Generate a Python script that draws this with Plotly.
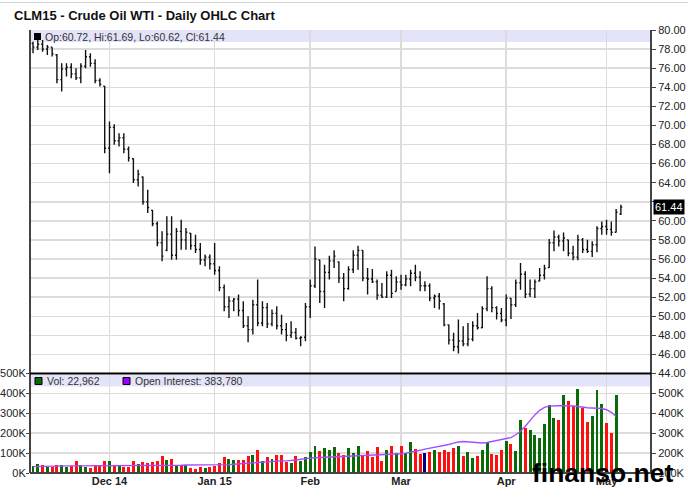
import plotly.graph_objects as go
import pandas as pd

# ---------------- data ----------------
holidays = ["2014-11-27", "2014-12-25", "2015-01-01", "2015-01-19", "2015-02-16", "2015-04-03"]
dates = [d.strftime("%Y-%m-%d") for d in pd.bdate_range("2014-11-06", "2015-05-06")
         if d.strftime("%Y-%m-%d") not in holidays]

opens = [78.6, 78.2, 78.5, 78.0, 78.2, 77.4, 74.8, 75.9, 76.1, 75.4,
         75.0, 76.2, 77.2, 76.5, 74.7, 74.1, 67.6, 69.8, 68.4, 68.7,
         67.5, 66.5, 64.3, 64.6, 62.0, 61.1, 59.7, 57.7, 56.9, 58.6,
         56.4, 58.9, 58.0, 58.7, 57.4, 57.0, 55.9, 56.2, 55.5, 54.8,
         53.0, 51.0, 51.6, 51.8, 50.6, 49.0, 48.6, 51.2, 49.3, 50.9,
         49.2, 50.3, 49.0, 48.6, 48.0, 48.3, 47.7, 47.8, 51.0, 53.2,
         55.9, 52.6, 54.6, 55.8, 55.7, 54.0, 52.9, 54.9, 56.4, 56.9,
         54.0, 53.9, 53.6, 52.2, 52.0, 54.3, 52.6, 53.6, 53.3, 53.9,
         54.5, 54.1, 53.2, 53.2, 51.9, 52.1, 51.3, 49.1, 47.5, 46.8,
         47.4, 47.1, 47.6, 49.0, 48.8, 50.8, 52.9, 50.9, 50.3, 49.6,
         51.9, 51.2, 53.5, 54.4, 52.3, 52.9, 53.7, 54.3, 55.1, 57.7,
         58.3, 57.9, 58.0, 56.6, 56.2, 58.0, 57.0, 56.8, 57.5, 59.2,
         59.4, 59.1, 58.8, 60.72]
highs = [78.78, 78.95, 78.95, 78.43, 78.2, 77.49, 76.51, 76.51, 76.51, 75.99,
         76.51, 77.91, 77.56, 76.93, 74.94, 74.14, 70.41, 70.13, 69.19, 69.19,
         67.79, 66.57, 65.35, 64.65, 63.26, 61.16, 59.94, 58.90, 60.47, 60.47,
         59.25, 60.12, 59.25, 58.72, 58.55, 57.68, 56.46, 56.46, 57.68, 55.24,
         53.32, 52.09, 51.92, 52.27, 51.57, 50.0, 51.74, 53.84, 51.57, 51.39,
         50.70, 51.05, 50.17, 49.30, 49.48, 48.78, 47.91, 51.39, 53.84, 57.32,
         55.93, 55.41, 56.35, 56.91, 55.75, 54.53, 55.23, 56.91, 57.39, 56.91,
         55.06, 54.95, 53.84, 53.49, 54.71, 54.88, 54.18, 54.36, 54.36, 54.88,
         55.41, 54.71, 53.66, 53.42, 52.27, 52.44, 51.39, 49.13, 48.26, 49.65,
         48.95, 49.30, 49.48, 50.35, 51.05, 54.18, 53.14, 51.05, 50.87, 52.27,
         51.92, 53.84, 55.58, 54.71, 53.84, 53.84, 55.06, 55.41, 58.09, 59.0,
         58.54, 58.79, 58.02, 57.39, 58.54, 58.20, 58.02, 57.85, 59.42, 59.94,
         60.11, 59.94, 61.23, 61.69]
lows = [77.56, 77.91, 77.73, 77.38, 77.21, 74.42, 73.55, 75.12, 74.94, 74.77,
        74.42, 75.99, 76.16, 74.42, 74.07, 67.09, 65.0, 67.97, 67.79, 67.09,
        66.22, 63.96, 63.61, 61.69, 60.82, 59.42, 57.33, 55.76, 56.80, 55.93,
        55.93, 56.98, 56.98, 56.98, 56.63, 55.41, 55.24, 54.89, 54.36, 52.62,
        50.52, 49.82, 50.52, 50.0, 48.78, 47.28, 48.08, 48.95, 48.95, 48.78,
        48.95, 48.60, 48.08, 47.38, 47.73, 47.56, 46.86, 47.38, 49.82, 52.96,
        51.39, 50.87, 53.84, 55.06, 53.49, 51.57, 52.79, 54.53, 54.88, 53.66,
        52.27, 53.49, 51.74, 51.92, 51.92, 51.92, 52.62, 52.79, 53.14, 53.14,
        53.66, 52.62, 52.62, 51.57, 50.87, 50.70, 48.95, 47.03, 46.34, 46.09,
        46.86, 46.86, 47.38, 48.60, 48.78, 50.52, 50.42, 49.65, 49.37, 48.95,
        49.72, 50.98, 52.79, 51.92, 52.02, 51.92, 53.66, 53.84, 55.06, 56.80,
        57.32, 56.80, 56.28, 55.86, 55.86, 56.63, 56.63, 56.21, 56.70, 58.54,
        58.54, 58.44, 58.79, 60.62]
closes = [78.2, 78.5, 78.0, 78.2, 77.5, 74.8, 75.9, 76.1, 75.4, 75.0,
          76.2, 77.2, 76.5, 74.7, 74.3, 67.6, 69.8, 68.4, 68.7, 67.5,
          66.6, 64.3, 64.9, 62.0, 61.4, 59.7, 57.7, 56.3, 58.6, 56.4,
          58.9, 58.0, 58.8, 57.4, 57.0, 55.9, 56.2, 55.5, 54.8, 53.0,
          51.0, 51.6, 51.8, 50.6, 49.0, 48.6, 51.2, 49.3, 50.9, 49.2,
          50.3, 49.0, 48.6, 48.0, 48.3, 47.7, 47.8, 51.0, 53.2, 56.0,
          52.6, 54.6, 55.8, 56.3, 54.0, 52.9, 54.9, 56.4, 56.9, 54.0,
          53.9, 53.6, 52.2, 52.0, 54.3, 52.4, 53.6, 53.3, 53.9, 54.5,
          54.1, 53.2, 53.2, 51.9, 52.1, 51.6, 49.1, 47.5, 46.8, 47.4,
          47.1, 47.6, 49.0, 48.8, 50.8, 52.9, 50.9, 50.3, 49.6, 51.9,
          51.2, 53.5, 54.4, 52.3, 52.9, 53.6, 54.3, 55.0, 57.7, 58.3,
          57.9, 58.2, 56.6, 56.2, 58.0, 57.0, 56.8, 57.5, 59.2, 59.4,
          59.1, 58.8, 60.9, 61.44]
volume_k = [35, 44, 39, 32, 32, 39, 39, 32, 36, 58,
            39, 32, 27, 39, 39, 58, 61, 39, 39, 32,
            32, 58, 44, 53, 49, 53, 58, 87, 63, 68,
            39, 41, 41, 24, 19, 32, 27, 32, 36, 49,
            80, 68, 63, 63, 63, 83, 88, 114, 58, 78,
            70, 88, 88, 53, 48, 83, 58, 80, 104, 134,
            109, 126, 114, 129, 99, 88, 126, 100, 134, 88,
            109, 80, 129, 58, 117, 138, 99, 134, 99, 156,
            119, 95, 99, 104, 114, 104, 117, 104, 128, 138,
            85, 104, 75, 85, 114, 156, 95, 90, 114, 163,
            148, 112, 265, 228, 214, 189, 177, 245, 342, 275,
            265, 393, 364, 335, 422, 325, 255, 286, 418, 347,
            250, 199, 394, 22.962]
open_interest_k = [132, 133, 134, 134, 135, 135, 136, 136, 136, 136,
                   136, 136, 136, 136, 136, 136, 137, 137, 137, 138,
                   138, 138, 139, 139, 139, 139, 139, 139, 139, 139,
                   139, 139, 140, 140, 140, 141, 141, 141, 141, 141,
                   141, 142, 144, 146, 148, 150, 152, 153, 155, 157,
                   159, 160, 161, 161, 162, 165, 169, 173, 175, 177,
                   178, 178, 179, 180, 181, 182, 184, 186, 187, 188,
                   189, 190, 191, 192, 192, 193, 195, 197, 200, 204,
                   208, 214, 220, 224, 228, 232, 237, 243, 250, 256,
                   258, 256, 253, 251, 251, 253, 258, 264, 268, 272,
                   278, 292, 310, 335, 365, 392, 415, 430, 436, 438,
                   438, 438, 438, 437, 434, 430, 428, 427, 426, 424,
                   418, 405, 383.78]
tick_dates = ["2014-12-01", "2015-01-02", "2015-02-02", "2015-03-02", "2015-04-01", "2015-05-01"]
tick_labels = ["Dec 14", "Jan 15", "Feb", "Mar", "Apr", "May"]
price_ticks = list(range(44, 82, 2))
vol_ticks_k = [0, 100, 200, 300, 400, 500]
oi_ticks_k = [100, 200, 300, 400, 500]
last = dict(op=60.72, hi=61.69, lo=60.62, cl=61.44)
last_vol = "22,962"
last_oi = "383,780"

assert len(dates) == len(opens) == len(highs) == len(lows) == len(closes) == len(volume_k)

# ---------------- styling ----------------
W, H = 688, 500
L, R, T, B = 30, 37, 30, 27
PW, PH = W - L - R, H - T - B
FONT = "Liberation Sans, Arial, sans-serif"
GRID = "#DCDCDC"


def px(x):
    return (x - L) / PW


def py(y):
    return (H - B - y) / PH


split = py(373.5)

vol_colors = []
for i, c in enumerate(closes):
    prev = closes[i - 1] if i > 0 else c - 1
    if c > prev:
        vol_colors.append("#0A6A0A")
    elif c < prev:
        vol_colors.append("#FF1010")
    else:
        vol_colors.append("#000080")

# hide the price label that the last-price tag covers
price_ticktext = [f"{v:.2f}" if abs(v - last["cl"]) > 1.0 else "" for v in price_ticks]

fig = go.Figure()
fig.add_trace(go.Ohlc(
    x=dates, open=opens, high=highs, low=lows, close=closes,
    xaxis="x", yaxis="y",
    increasing=dict(line=dict(color="#111111", width=1.4)),
    decreasing=dict(line=dict(color="#111111", width=1.4)),
    tickwidth=0.3, showlegend=False, hoverinfo="skip"))
fig.add_trace(go.Bar(
    x=dates, y=[v * 1000 for v in volume_k], xaxis="x2", yaxis="y2",
    marker=dict(color=vol_colors, line=dict(width=0)), width=0.62,
    showlegend=False, hoverinfo="skip"))
fig.add_trace(go.Scatter(
    x=dates[:len(open_interest_k)], y=[v * 1000 for v in open_interest_k],
    xaxis="x2", yaxis="y3", mode="lines",
    line=dict(color="#A64DFF", width=1.4), showlegend=False, hoverinfo="skip"))

xr = [-0.63, 129.3]
common_x = dict(type="category", categoryorder="array", categoryarray=dates,
                range=xr, tickvals=tick_dates, showgrid=True, gridcolor=GRID,
                gridwidth=1.5, zeroline=False, showline=False, ticks="",
                fixedrange=True, automargin=False)

fig.update_layout(
    template="none",
    width=W, height=H,
    margin=dict(l=L, r=R, t=T, b=B, pad=0, autoexpand=False),
    paper_bgcolor="white", plot_bgcolor="white",
    font=dict(family=FONT, size=11, color="#222222"),
    bargap=0,
    xaxis=dict(**common_x, anchor="y", showticklabels=False,
               rangeslider=dict(visible=False)),
    xaxis2=dict(**common_x, anchor="y2", matches="x", showticklabels=True,
                ticktext=tick_labels,
                tickfont=dict(family=FONT, size=11, color="#222222", weight="bold")),
    yaxis=dict(domain=[split, 1], range=[44, 80], side="right",
               tickvals=price_ticks, ticktext=price_ticktext, ticks="outside",
               ticklen=4, tickcolor="#444", showgrid=True, gridcolor=GRID,
               gridwidth=1.5, zeroline=False, showline=False, fixedrange=True,
               automargin=False),
    yaxis2=dict(domain=[0, split], range=[0, 500000], side="left",
                tickvals=[v * 1000 for v in vol_ticks_k],
                ticktext=[f"{v}K" for v in vol_ticks_k], ticks="outside",
                ticklen=3, tickcolor="#444", ticklabelstandoff=-2,
                showgrid=True, gridcolor=GRID,
                gridwidth=1.5, zeroline=False, showline=False, fixedrange=True,
                automargin=False),
    yaxis3=dict(overlaying="y2", range=[100000, 600000], side="right",
                anchor="x2",
                tickvals=[v * 1000 for v in oi_ticks_k],
                ticktext=[f"{v}K" for v in oi_ticks_k], ticks="outside",
                ticklen=4, tickcolor="#444", showgrid=False, zeroline=False,
                showline=False, fixedrange=True, automargin=False),
)

shapes = [
    dict(type="line", xref="paper", yref="paper", x0=px(0), x1=px(W), y0=py(2.5), y1=py(2.5),
         line=dict(color="#D5D5D5", width=1)),
    dict(type="rect", xref="paper", yref="paper", x0=px(30), x1=px(651), y0=py(42), y1=py(30),
         fillcolor="#E3E3F9", line=dict(width=0), layer="below"),
    dict(type="rect", xref="paper", yref="paper", x0=px(30), x1=px(651), y0=py(386.5), y1=py(375),
         fillcolor="#E3E3F9", line=dict(width=0), layer="below"),
    dict(type="line", xref="paper", yref="paper", x0=px(30), x1=px(30), y0=0, y1=1,
         line=dict(color="#444444", width=2)),
    dict(type="line", xref="paper", yref="paper", x0=px(651), x1=px(651), y0=0, y1=1,
         line=dict(color="#444444", width=2)),
    dict(type="line", xref="paper", yref="paper", x0=px(30), x1=px(651), y0=split, y1=split,
         line=dict(color="#000000", width=2)),
    dict(type="line", xref="paper", yref="paper", x0=px(30), x1=px(651), y0=0, y1=0,
         line=dict(color="#444444", width=2)),
    dict(type="rect", xref="paper", yref="paper", x0=px(34), x1=px(41), y0=py(40), y1=py(33),
         fillcolor="#000000", line=dict(width=0)),
    dict(type="rect", xref="paper", yref="paper", x0=px(35), x1=px(42), y0=py(384.5), y1=py(377.5),
         fillcolor="#0A6A0A", line=dict(color="#000", width=1)),
    dict(type="rect", xref="paper", yref="paper", x0=px(123), x1=px(130), y0=py(384.5), y1=py(377.5),
         fillcolor="#9900FF", line=dict(color="#000", width=1)),
]
fig.update_layout(shapes=shapes)

ann = [
    dict(x=px(12), y=py(15), text="<b>CLM15 - Crude Oil WTI - Daily OHLC Chart</b>",
         font=dict(size=13, color="#111111")),
    dict(x=px(43), y=py(36.5),
         text=f"Op:{last['op']:.2f}, Hi:{last['hi']:.2f}, Lo:{last['lo']:.2f}, Cl:{last['cl']:.2f}",
         font=dict(size=10.5, color="#333333")),
    dict(x=px(45), y=py(381), text=f"Vol: {last_vol}", font=dict(size=10.5, color="#333333")),
    dict(x=px(133), y=py(381), text=f"Open Interest: {last_oi}", font=dict(size=10.5, color="#333333")),
    dict(x=px(530), y=py(473), text="<b>finanso.net</b>",
         font=dict(size=26.5, color="#000000")),
]
annotations = []
for a in ann:
    a.update(xref="paper", yref="paper", xanchor="left", yanchor="middle",
             showarrow=False)
    annotations.append(a)
annotations.append(dict(x=px(653), xref="paper", y=last["cl"], yref="y",
                        text=f"{last['cl']:.2f}", xanchor="left", yanchor="middle",
                        showarrow=False, bgcolor="#000000", borderpad=1,
                        font=dict(size=11, color="#FFFFFF")))
fig.update_layout(annotations=annotations)

fig.write_html("out.html", config=dict(displayModeBar=False, staticPlot=True),
               post_script="document.body.style.margin='0px';document.body.style.padding='0px';")
